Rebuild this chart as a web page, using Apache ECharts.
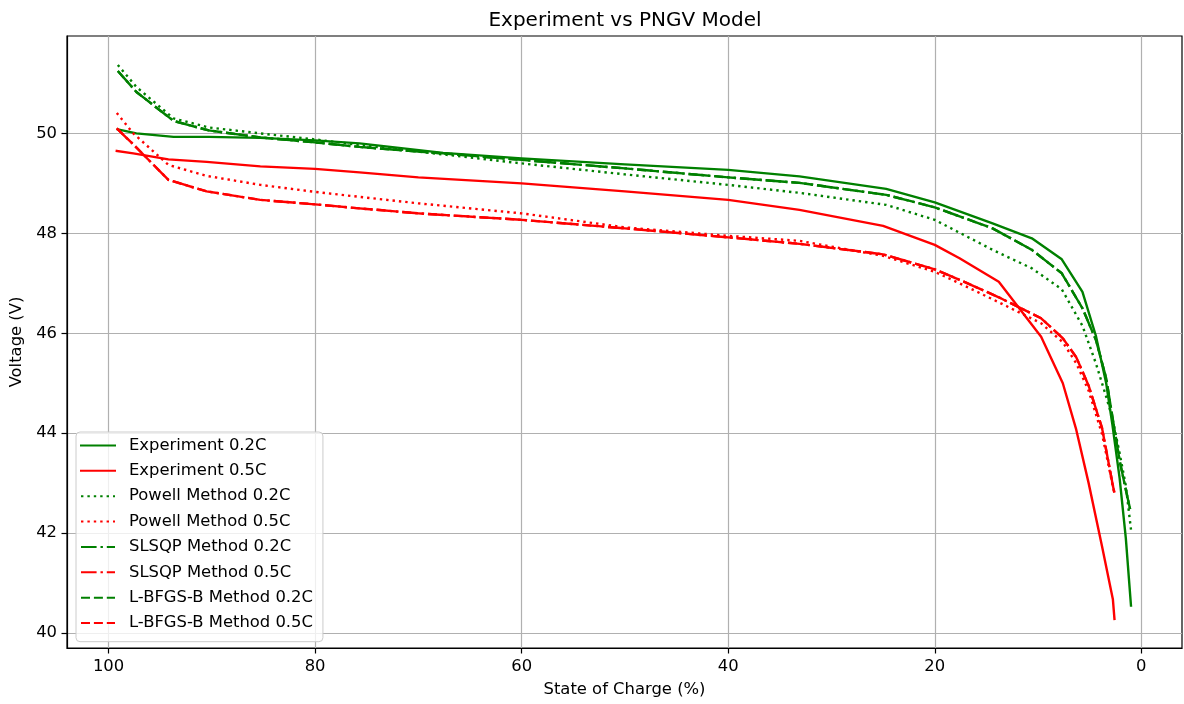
<!DOCTYPE html>
<html>
<head>
<meta charset="utf-8">
<script src="https://cdn.jsdelivr.net/npm/echarts@6/dist/echarts.min.js"></script>
<style>
html,body{margin:0;padding:0;background:#fff;}
#chart{width:1184px;height:704px;}
</style>
</head>
<body>
<div id="chart"></div>
<script>
// State of charge sample points (%)
const soc02 = [99.1, 97.3, 93.7, 90.3, 85.3, 80, 75.7, 67.6, 60, 50, 40, 33.1, 24.7, 20, 14.4, 10.6, 7.7, 5.7, 4.4, 3.4, 2.8, 2.1, 1.5, 1.0];
const soc05 = [99.2, 97.6, 94.2, 90.5, 85.3, 80, 75.7, 70, 60, 50, 40, 33.1, 25, 20, 17.6, 13.8, 9.7, 7.6, 6.3, 5.1, 3.8, 2.75, 2.6];

// Voltages (V)
const exp02    = [50.08, 50.0, 49.93, 49.93, 49.91, 49.86, 49.8, 49.61, 49.5, 49.38, 49.27, 49.14, 48.89, 48.62, 48.2, 47.9, 47.48, 46.83, 45.95, 45.0, 44.17, 43.1, 41.9, 40.55];
const exp05    = [49.65, 49.6, 49.48, 49.43, 49.34, 49.29, 49.22, 49.12, 49.0, 48.84, 48.67, 48.47, 48.15, 47.77, 47.5, 47.03, 45.93, 45.0, 44.07, 43.0, 41.73, 40.67, 40.28];
const powell02 = [51.37, 50.93, 50.3, 50.12, 50.0, 49.88, 49.77, 49.58, 49.4, 49.18, 48.97, 48.81, 48.57, 48.27, 47.67, 47.3, 46.88, 46.15, 45.4, 44.73, 44.3, 43.6, 42.95, 42.07];
const powell05 = [50.41, 50.0, 49.37, 49.15, 48.97, 48.83, 48.73, 48.6, 48.4, 48.12, 47.95, 47.85, 47.55, 47.23, 47.0, 46.62, 46.2, 45.82, 45.4, 44.85, 43.98, 42.93, 42.8];
const slsqp02  = [51.25, 50.83, 50.25, 50.06, 49.92, 49.82, 49.73, 49.6, 49.47, 49.3, 49.12, 49.01, 48.77, 48.52, 48.1, 47.67, 47.2, 46.5, 45.87, 45.1, 44.33, 43.45, 42.87, 42.4];
const slsqp05  = [50.1, 49.78, 49.07, 48.84, 48.67, 48.58, 48.5, 48.4, 48.27, 48.1, 47.92, 47.79, 47.58, 47.28, 47.07, 46.72, 46.3, 45.9, 45.52, 44.95, 44.1, 42.95, 42.8];
const lbfgsb02 = [51.25, 50.83, 50.25, 50.06, 49.92, 49.82, 49.73, 49.6, 49.47, 49.3, 49.12, 49.01, 48.77, 48.52, 48.1, 47.67, 47.2, 46.5, 45.87, 45.1, 44.33, 43.45, 42.87, 42.4];
const lbfgsb05 = [50.1, 49.78, 49.07, 48.84, 48.67, 48.58, 48.5, 48.4, 48.27, 48.1, 47.92, 47.79, 47.58, 47.28, 47.07, 46.72, 46.3, 45.9, 45.52, 44.95, 44.1, 42.95, 42.8];

// Tick labels
const xTicks = [0, 20, 40, 60, 80, 100];
const yTicks = [40, 42, 44, 46, 48, 50];

const FONT = 'DejaVu Sans';
const FS = 16.4;
const LW = 2.4;
const DOT = [2.4, 4.0];
const DASH = [9.0, 3.9];
const DASHDOT = [15.6, 3.9, 2.4, 3.9];

function pairs(xs, ys){ return xs.map((x,i)=>[x, ys[i]]); }
function mk(name, xs, ys, color, type){
  return {
    name: name, type: 'line', data: pairs(xs, ys),
    symbol: 'none', smooth: false, animation: false,
    lineStyle: {color: color, width: LW, type: type, cap: type === 'solid' ? 'square' : 'butt', join: 'round'},
    itemStyle: {color: color},
    emphasis: {disabled: true}
  };
}

const chart = echarts.init(document.getElementById('chart'), null, {renderer: 'canvas'});
chart.setOption({
  backgroundColor: '#fff',
  animation: false,
  textStyle: {fontFamily: FONT},
  title: {
    text: 'Experiment vs PNGV Model',
    left: 620, top: 6, textAlign: 'center',
    textStyle: {fontFamily: FONT, fontSize: 20, fontWeight: 'normal', color: '#000'}
  },
  grid: {left: 67, right: 2, top: 36, bottom: 56, show: true, borderColor: '#000', borderWidth: 1.2, backgroundColor: 'transparent'},
  legend: {
    orient: 'vertical', left: 76, top: 432,
    itemWidth: 34, itemHeight: 25.2, itemGap: 5.2,
    padding: [3.4, 10, 8.6, 4],
    backgroundColor: 'rgba(255,255,255,0.8)', borderColor: '#cccccc', borderWidth: 1, borderRadius: 4,
    itemStyle: {opacity: 0, color: 'rgba(0,0,0,0)', borderWidth: 0},
    textStyle: {fontFamily: FONT, fontSize: FS, color: '#000', padding: [0, 0, 0, 9]},
    data: ['Experiment 0.2C','Experiment 0.5C','Powell Method 0.2C','Powell Method 0.5C','SLSQP Method 0.2C','SLSQP Method 0.5C','L-BFGS-B Method 0.2C','L-BFGS-B Method 0.5C']
  },
  xAxis: {
    type: 'value', inverse: true, min: -3.94, max: 104.02,
    name: 'State of Charge (%)', nameLocation: 'middle', nameGap: 34,
    nameTextStyle: {fontFamily: FONT, fontSize: FS, color: '#000'},
    axisLine: {show: true, onZero: false, lineStyle: {color: '#000', width: 1.2}},
    axisTick: {show: true, length: 5.5, lineStyle: {color: '#000', width: 1.2}, customValues: xTicks},
    axisLabel: {fontFamily: FONT, fontSize: FS, color: '#000', margin: 11, customValues: xTicks, showMinLabel: true, showMaxLabel: true},
    splitLine: {show: true, lineStyle: {color: '#b0b0b0', width: 1.2}}
  },
  yAxis: {
    type: 'value', min: 39.7, max: 51.95,
    name: 'Voltage (V)', nameLocation: 'middle', nameGap: 38, nameRotate: 90,
    nameTextStyle: {fontFamily: FONT, fontSize: FS, color: '#000'},
    axisLine: {show: true, onZero: false, lineStyle: {color: '#000', width: 1.2}},
    axisTick: {show: true, length: 5.5, lineStyle: {color: '#000', width: 1.2}, customValues: yTicks},
    axisLabel: {fontFamily: FONT, fontSize: FS, color: '#000', margin: 10, customValues: yTicks},
    splitLine: {show: true, lineStyle: {color: '#b0b0b0', width: 1.2}}
  },
  series: [
    mk('Experiment 0.2C', soc02, exp02, '#008000', 'solid'),
    mk('Experiment 0.5C', soc05, exp05, '#ff0000', 'solid'),
    mk('Powell Method 0.2C', soc02, powell02, '#008000', DOT),
    mk('Powell Method 0.5C', soc05, powell05, '#ff0000', DOT),
    mk('SLSQP Method 0.2C', soc02, slsqp02, '#008000', DASHDOT),
    mk('SLSQP Method 0.5C', soc05, slsqp05, '#ff0000', DASHDOT),
    mk('L-BFGS-B Method 0.2C', soc02, lbfgsb02, '#008000', DASH),
    mk('L-BFGS-B Method 0.5C', soc05, lbfgsb05, '#ff0000', DASH)
  ]
});
</script>
</body>
</html>
